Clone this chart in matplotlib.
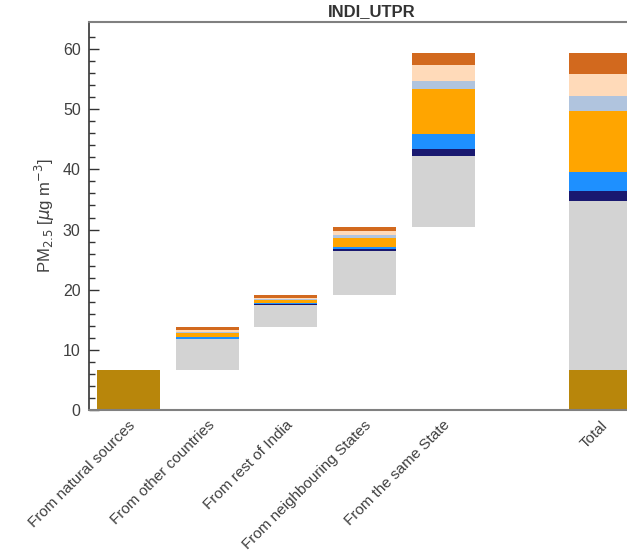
import matplotlib
matplotlib.use("Agg")
import matplotlib.pyplot as plt
import matplotlib.transforms as mtransforms
import numpy as np

plt.rcParams['font.family'] = ['Liberation Sans', 'DejaVu Sans']

categories = ["From natural sources", "From other countries", "From rest of India",
              "From neighbouring States", "From the same State", "Total"]
positions = [0, 1, 2, 3, 4, 6]

natural = 6.65
# contributions of each source group for bars 2..5 (other countries .. same state)
gray_v = [5.15, 3.70, 7.40, 11.90]
navy_v = [0.05, 0.15, 0.28, 1.10]
blue_v = [0.25, 0.15, 0.27, 2.50]
orange_v = [0.65, 0.45, 1.55, 7.55]
lsb_v = [0.25, 0.25, 0.55, 1.35]
peach_v = [0.30, 0.15, 0.65, 2.60]
choc_v = [0.45, 0.45, 0.55, 2.00]
green_v = [0.02, 0.02, 0.03, 0.05]

series = [gray_v, navy_v, blue_v, orange_v, lsb_v, peach_v, choc_v, green_v]
colors = ["#D3D3D3", "#191970", "#1E90FF", "#FFA500", "#B0C4DE", "#FFDAB9", "#D2691E", "#90EE90"]
nat_color = "#B8860B"

fig = plt.figure(figsize=(6.27, 5.51), dpi=100)
ax = fig.add_axes([89/627, (551-410)/551, (640-89)/627, (410-22)/551])

w = 0.8
ax.bar(positions[0], natural, w, color=nat_color, linewidth=0)

base = natural
for i in range(4):
    b = base
    for s, c in zip(series, colors):
        ax.bar(positions[i+1], s[i], w, bottom=b, color=c, linewidth=0)
        b += s[i]
    base = b

# total bar
ax.bar(positions[5], natural, w, color=nat_color, linewidth=0)
b = natural
for s, c in zip(series, colors):
    tot = sum(s)
    ax.bar(positions[5], tot, w, bottom=b, color=c, linewidth=0)
    b += tot

ax.set_xlim(-0.5, 6.5)
ax.set_ylim(0, 64.5)
ax.set_yticks([0, 10, 20, 30, 40, 50, 60])
ax.set_yticks(np.arange(0, 64, 2), minor=True)
ax.tick_params(axis='y', which='major', direction='in', length=7, width=1, labelsize=11.5,
               labelcolor='#404040', color='#333333', pad=6)
ax.tick_params(axis='y', which='minor', direction='in', length=4, width=1, color='#333333')
ax.set_xticks(positions)
ax.set_xticklabels(categories, rotation=45, ha='right', rotation_mode='anchor',
                   fontsize=11, color='#404040')
ax.tick_params(axis='x', length=0, pad=7)
for lab in ax.get_xticklabels():
    off = mtransforms.ScaledTranslation(0, 0.015, fig.dpi_scale_trans)
    lab.set_transform(lab.get_transform() + off)

ax.set_ylabel(r"PM$_{2.5}$ [$\mu$g m$^{-3}$]", fontsize=12, color='#404040', labelpad=4)

ax.spines['left'].set_color('#333333')
ax.spines['left'].set_linewidth(1.2)
for sp in ['bottom', 'top']:
    ax.spines[sp].set_color('#808080')
    ax.spines[sp].set_linewidth(1.5)
ax.spines['right'].set_visible(False)

fig.text(372/627, 1 - 12/551, "INDI_UTPR", ha='center', va='center', fontsize=12,
         fontweight='bold', color='#333333')

fig.savefig("out.png", dpi=100)
